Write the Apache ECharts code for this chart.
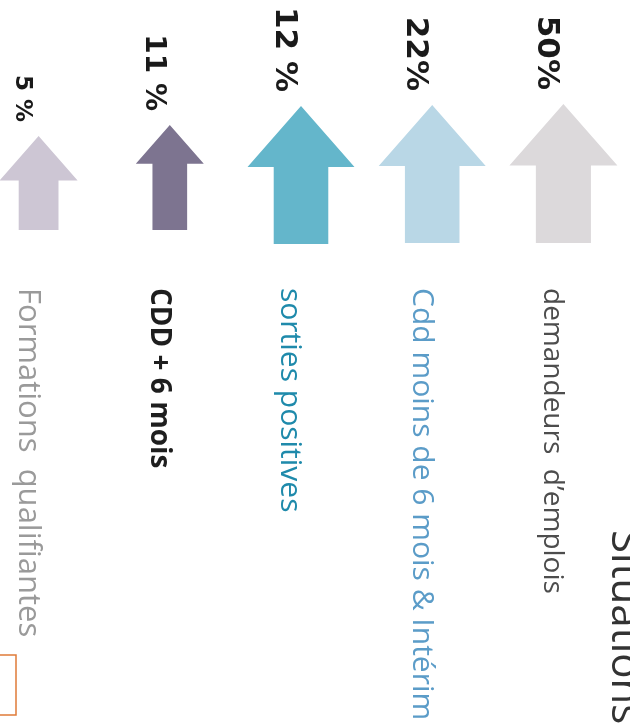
<!DOCTYPE html>
<html>
<head>
<meta charset="utf-8">
<script src="https://cdn.jsdelivr.net/npm/echarts@6/dist/echarts.min.js"></script>
<style>
  html, body { margin: 0; padding: 0; background: #fff; }
  #chart { width: 630px; height: 726px; }
</style>
</head>
<body>
<div id="chart"></div>
<script>
// categories, left to right
const categories = [
  'Formations  qualifiantes',
  'CDD + 6 mois',
  'sorties positives',
  'Cdd moins de 6 mois & Intérim',
  'demandeurs  d\u2019emplois'
]
const percentLabels = ['5 %', '11 %', '12 %', '22%', '50%']
// arrow extent read on the value axis (tip and base)
const arrowTop = [144, 155, 174, 175, 176]
const arrowBase = [50, 50, 36, 37, 37]

// styles
const arrowColors = ['#cdc6d4', '#7d7490', '#64b6cb', '#b9d7e6', '#dcd9db']
const arrowWidths = [78, 68, 107, 107, 108]
const pctSizes = [23, 28, 31, 31, 31]
const catStyles = [
  { color: '#9a9a9a', fontWeight: 'normal', fontSize: 31 },
  { color: '#1e1e1e', fontWeight: 'bold', fontSize: 28 },
  { color: '#1f8aab', fontWeight: 'normal', fontSize: 30 },
  { color: '#5b9cc8', fontWeight: 'normal', fontSize: 30 },
  { color: '#4d4d4d', fontWeight: 'normal', fontSize: 28 }
]

const rich = {}
catStyles.forEach((s, i) => {
  rich['c' + i] = { ...s, fontFamily: '"Open Sans", sans-serif' }
})

function renderArrow(params, api) {
  const idx = params.dataIndex
  const tip = api.coord([api.value(0), api.value(1)])
  const base = api.coord([api.value(0), api.value(2)])
  const w = arrowWidths[idx]
  const stem = w * 0.51
  const head = w * 0.57
  const cx = tip[0]
  const hy = tip[1] + head
  const points = [
    [cx, tip[1]],
    [cx + w / 2, hy],
    [cx + stem / 2, hy],
    [cx + stem / 2, base[1]],
    [cx - stem / 2, base[1]],
    [cx - stem / 2, hy],
    [cx - w / 2, hy]
  ]
  return {
    type: 'group',
    children: [
      { type: 'polygon', shape: { points }, style: { fill: arrowColors[idx] } },
      {
        type: 'text',
        x: cx - 17,
        y: tip[1] - 14,
        rotation: -Math.PI / 2,
        style: {
          text: percentLabels[idx],
          align: 'right',
          verticalAlign: 'middle',
          fill: '#1a1a1a',
          font: 'bold ' + pctSizes[idx] + 'px "DejaVu Sans", sans-serif'
        }
      }
    ]
  }
}

const chart = echarts.init(document.getElementById('chart'))
chart.setOption({
  animation: false,
  grid: { left: -27, right: 1, top: 0, bottom: 446, containLabel: false, outerBoundsMode: 'none' },
  xAxis: {
    type: 'category',
    data: categories,
    axisLine: { show: false },
    axisTick: { show: false },
    axisLabel: {
      interval: 0,
      rotate: -90,
      margin: 8,
      padding: [22, 0, 0, 0],
      formatter: (v, i) => `{c${i}|${v}}`,
      rich
    }
  },
  yAxis: { type: 'value', min: 0, max: 280, show: false },
  series: [{
    type: 'custom',
    renderItem: renderArrow,
    data: categories.map((c, i) => [i, arrowTop[i], arrowBase[i]])
  }],
  graphic: [
    {
      type: 'text',
      x: 624,
      y: 530,
      rotation: -Math.PI / 2,
      style: {
        text: 'Situations',
        align: 'left',
        verticalAlign: 'middle',
        fill: '#333',
        font: '42px "Open Sans", sans-serif'
      }
    },
    {
      type: 'rect',
      shape: { x: -2, y: 655, width: 18, height: 60 },
      style: { fill: 'none', stroke: '#e07b39', lineWidth: 1.5 }
    }
  ]
})
</script>
</body>
</html>
